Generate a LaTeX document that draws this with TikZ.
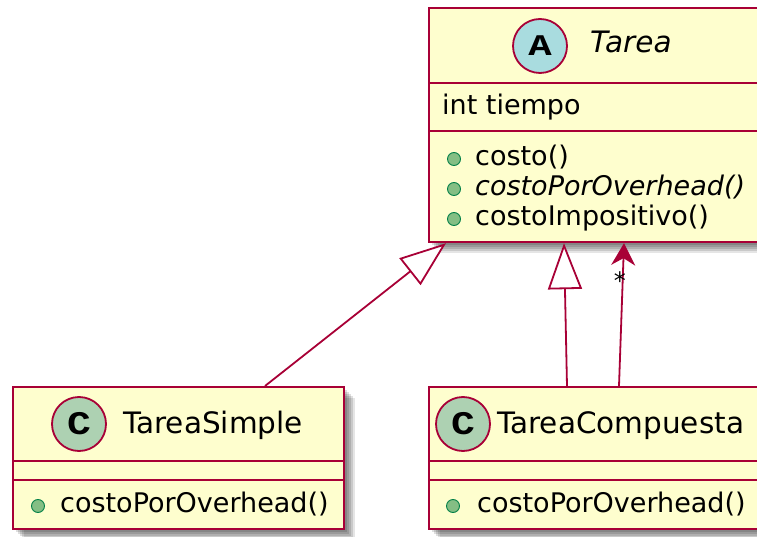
\documentclass[tikz,border=0pt]{standalone}
\usepackage{fontspec}
\setmainfont{DejaVu Sans}
\newfontfamily\spotfont{Liberation Mono}
\usetikzlibrary{arrows.meta}

\definecolor{umlred}{HTML}{A80036}
\definecolor{umlfill}{HTML}{FEFECE}
\definecolor{abstractspot}{HTML}{A9DCDF}
\definecolor{classspot}{HTML}{ADD1B2}
\definecolor{pubfill}{HTML}{84BE84}
\definecolor{pubdraw}{HTML}{038048}

\tikzset{
  softshadow/.style={
    preaction={fill=black, fill opacity=0.13, transform canvas={shift={(3pt,-3pt)}}},
    preaction={fill=black, fill opacity=0.13, transform canvas={shift={(5pt,-5pt)}}},
    preaction={fill=black, fill opacity=0.13, transform canvas={shift={(7pt,-7pt)}}},
    preaction={fill=black, fill opacity=0.12, transform canvas={shift={(9pt,-9pt)}}},
    preaction={fill=black, fill opacity=0.10, transform canvas={shift={(11pt,-11pt)}}}
  },
  classbox/.style={softshadow, rectangle, draw=umlred, fill=umlfill,
    line width=2.2pt, inner sep=0pt, anchor=north west},
  divider/.style={draw=umlred, line width=2.2pt},
  spot/.style={circle, draw=umlred, line width=1.8pt, minimum size=54pt,
    inner sep=0pt, font=\spotfont\bfseries},
  header/.style={anchor=base west, inner sep=0pt, font=\fontsize{29.5}{32}\selectfont},
  member/.style={anchor=base west, inner sep=0pt, font=\fontsize{27}{30}\selectfont},
  pubdot/.style={circle, fill=pubfill, draw=pubdraw, line width=0.9pt,
    minimum size=13pt, inner sep=0pt},
  gen/.style={draw=umlred, line width=1.8pt,
    -{Triangle[length=46pt, width=34pt, fill=white]}},
  assoc/.style={draw=umlred, line width=1.8pt,
    -{Stealth[length=22pt, width=24pt, inset=7pt]}},
  mult/.style={inner sep=0pt, font=\fontsize{24}{26}\selectfont}
}

% stereotype letter inside the class spot: size, horizontal stretch, letter
\newcommand{\spotletter}[3]{\fontsize{#1}{#1}\selectfont\scalebox{#2}[1]{#3}}

\begin{document}
\begin{tikzpicture}[x=1pt, y=-1pt]
  \useasboundingbox (0,0) rectangle (757,537);

  % abstract class Tarea
  \node[classbox, minimum width=340pt, minimum height=234pt] (tarea) at (428,7) {};
  \draw[divider] (tarea.west |- 0,83) -- (tarea.east |- 0,83);
  \draw[divider] (tarea.west |- 0,131) -- (tarea.east |- 0,131);
  \node[spot, fill=abstractspot] (tareaspot) at (540,46) {\spotletter{30}{1.3}{A}};
  \node[header] (tareaname) at (590,53) {\itshape Tarea};
  \node[member] (tiempo) at (442,115) {int tiempo};
  \node[pubdot] (d1) at (454,159) {};
  \node[member] (m1) at (475,166) {costo()};
  \node[pubdot] (d2) at (454,189) {};
  \node[member] (m2) at (475,196) {\itshape costoPorOverhead()};
  \node[pubdot] (d3) at (454,219) {};
  \node[member] (m3) at (475,226) {costoImpositivo()};

  % class TareaSimple
  \node[classbox, minimum width=331pt, minimum height=142pt] (simple) at (12,386) {};
  \draw[divider] (simple.west |- 0,461) -- (simple.east |- 0,461);
  \draw[divider] (simple.west |- 0,480) -- (simple.east |- 0,480);
  \node[spot, fill=classspot] (simplespot) at (79,424) {\spotletter{33}{1.2}{C}};
  \node[header] (simplename) at (123,433) {TareaSimple};
  \node[pubdot] (d4) at (38,506) {};
  \node[member] (m4) at (60,512) {costoPorOverhead()};

  % class TareaCompuesta
  \node[classbox, minimum width=334pt, minimum height=142pt] (compuesta) at (428,386) {};
  \draw[divider] (compuesta.west |- 0,461) -- (compuesta.east |- 0,461);
  \draw[divider] (compuesta.west |- 0,480) -- (compuesta.east |- 0,480);
  \node[spot, fill=classspot] (compuestaspot) at (463,424) {\spotletter{33}{1.2}{C}};
  \node[header] (compuestaname) at (497,433) {TareaCompuesta};
  \node[pubdot] (d5) at (453,506) {};
  \node[member] (m5) at (477,512) {costoPorOverhead()};

  % inheritance
  \draw[gen] ([xshift=253pt]simple.north west) -- ([xshift=18pt]tarea.south west);
  \draw[gen] ([xshift=139pt]compuesta.north west) -- ([xshift=136pt]tarea.south west);

  % composite aggregation of subtasks
  \draw[assoc] ([xshift=191pt]compuesta.north west) --
    node[mult, pos=0.75, xshift=-3pt, yshift=-2pt] (star) {*}
    ([xshift=196pt]tarea.south west);
\end{tikzpicture}
\end{document}
